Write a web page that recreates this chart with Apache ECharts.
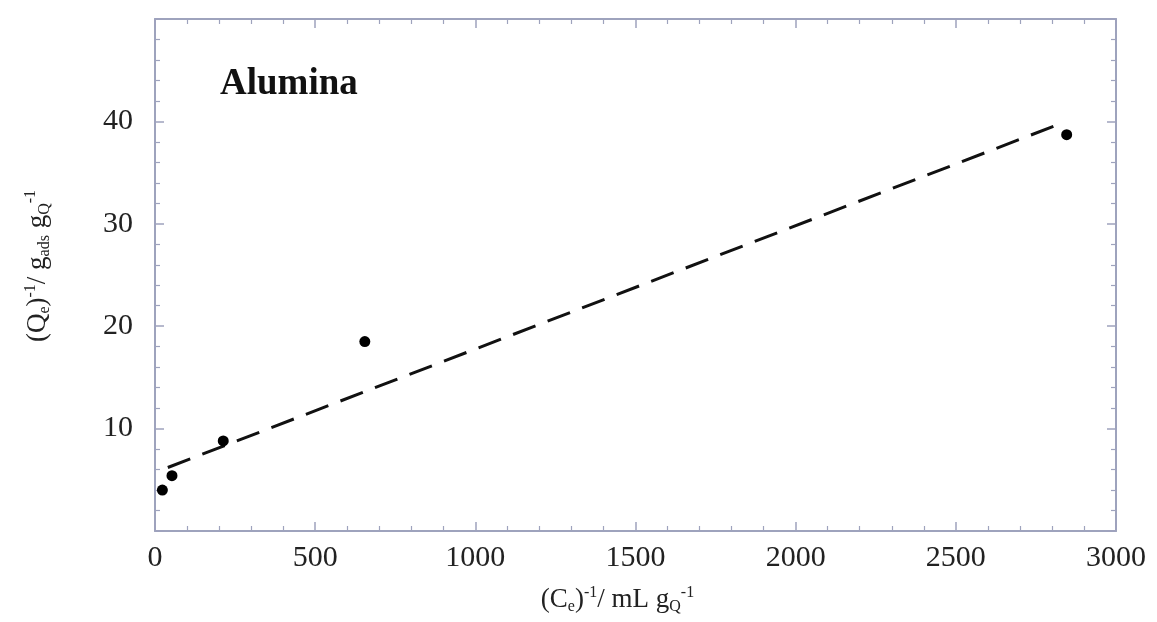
<!DOCTYPE html>
<html><head><meta charset="utf-8">
<script src="https://cdn.jsdelivr.net/npm/echarts@6/dist/echarts.min.js"></script>
<style>html,body{margin:0;padding:0;background:#fff}#c{width:1157px;height:622px}</style>
</head><body><div id="c"></div>
<script>
const pointsX = [23, 53, 213, 655, 2846];
const pointsY = [4.0, 5.4, 8.8, 18.5, 38.7];
const fitX = [40, 2820];
const fitY = [6.2, 39.7];
const xTicks = [0, 500, 1000, 1500, 2000, 2500, 3000];
const yTickLabels = [10, 20, 30, 40];

const axisColor = '#9ea3bd';
const font = 'Liberation Serif';
const chart = echarts.init(document.getElementById('c'));

const baseAxis = () => ({
  axisLine: {show: true, onZero: false, lineStyle: {color: axisColor, width: 2}},
  axisTick: {show: true, inside: true, length: 9, lineStyle: {color: axisColor, width: 1.5}},
  minorTick: {show: true, splitNumber: 5, length: 5, lineStyle: {color: axisColor, width: 1.2}},
  splitLine: {show: false}
});
const rich = {
  n: {fontFamily: font, fontSize: 27, color: '#222', lineHeight: 30, verticalAlign: 'middle'},
  sub: {fontFamily: font, fontSize: 16, color: '#222', lineHeight: 30, verticalAlign: 'bottom'},
  sup: {fontFamily: font, fontSize: 16, color: '#222', lineHeight: 30, verticalAlign: 'top'}
};

chart.setOption({
  animation: false,
  grid: {left: 155, right: 41, top: 19, bottom: 91, containLabel: false, outerBoundsMode: 'none'},
  xAxis: [
    Object.assign(baseAxis(), {
      type: 'value', min: 0, max: 3000, interval: 500, position: 'bottom',
      axisLabel: {fontFamily: font, fontSize: 30, color: '#222', margin: 12,
        formatter: v => xTicks.includes(v) ? String(v) : ''},
      name: '{n|(C}{sub|e}{n|)}{sup|-1}{n|/ mL g}{sub|Q}{sup|-1}',
      nameLocation: 'middle', nameGap: 54,
      nameTextStyle: {rich: rich, padding: [0, 36, 0, 0]}
    }),
    Object.assign(baseAxis(), {
      type: 'value', min: 0, max: 3000, interval: 500, position: 'top',
      axisLabel: {show: false}
    })
  ],
  yAxis: [
    Object.assign(baseAxis(), {
      type: 'value', min: 0, max: 50, interval: 10, position: 'left',
      axisLabel: {fontFamily: font, fontSize: 30, color: '#222', margin: 22,
        formatter: v => yTickLabels.includes(v) ? String(v) : ''},
      name: '{n|(Q}{sub|e}{n|)}{sup|-1}{n|/ g}{sub|ads}{n| g}{sub|Q}{sup|-1}',
      nameLocation: 'middle', nameGap: 102, nameRotate: 90,
      nameTextStyle: {rich: rich, padding: [0, 0, 0, 18]}
    }),
    Object.assign(baseAxis(), {
      type: 'value', min: 0, max: 50, interval: 10, position: 'right',
      axisLabel: {show: false}
    })
  ],
  graphic: [{
    type: 'text', left: 220, top: 66,
    style: {text: 'Alumina', fontFamily: font, fontWeight: 'bold', fontSize: 37, fill: '#111'}
  }],
  series: [
    {
      type: 'line', data: fitX.map((x, i) => [x, fitY[i]]),
      symbol: 'none', lineStyle: {color: '#111', width: 3, type: [24, 13]}, z: 2
    },
    {
      type: 'scatter', data: pointsX.map((x, i) => [x, pointsY[i]]),
      symbol: 'circle', symbolSize: 11, itemStyle: {color: '#000', opacity: 1}, z: 3
    }
  ]
});
</script></body></html>
